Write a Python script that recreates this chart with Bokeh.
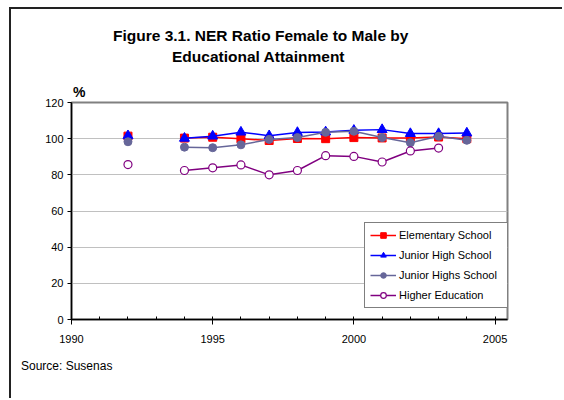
import numpy as np
from bokeh.plotting import figure
from bokeh.models import (ColumnDataSource, Range1d, SingleIntervalTicker, FixedTicker,
                          Legend, LegendItem, Title)
from bokeh.embed import file_html
from bokeh.resources import INLINE

nan = float("nan")
years = [1992, 1993, 1994, 1995, 1996, 1997, 1998, 1999, 2000, 2001, 2002, 2003, 2004]
elementary = [101.4, nan, 100.3, 100.8, 99.9, 99.0, 100.1, 100.0, 100.6, 100.4, 100.4, 100.9, 100.0]
junior_high = [101.6, nan, 100.2, 101.4, 103.6, 101.6, 103.4, 103.7, 104.6, 105.0, 102.8, 102.8, 103.1]
junior_highs = [98.3, nan, 95.3, 95.0, 96.6, 99.6, 100.6, 103.5, 104.1, 100.6, 97.8, 101.3, 99.1]
higher_edu = [85.7, nan, 82.4, 83.9, 85.5, 80.0, 82.4, 90.6, 90.2, 87.1, 93.2, 94.8, nan]

series_names = ["Elementary School", "Junior High School", "Junior Highs School", "Higher Education"]
y_ticks = [0, 20, 40, 60, 80, 100, 120]

src = ColumnDataSource(dict(year=years, el=elementary, jh=junior_high, jhs=junior_highs, he=higher_edu))

FONT = "Liberation Sans"

p = figure(width=553, height=391, output_backend="svg", toolbar_location=None,
           x_range=Range1d(1990, 2005.44), y_range=Range1d(0, 120),
           min_border_left=60, min_border_right=57, min_border_top=93, min_border_bottom=81)
p.styles = {"margin-left": "9px", "margin-top": "7px",
            "border-left": "2px solid #222222", "border-top": "2px solid #222222"}

p.background_fill_color = "white"
p.border_fill_color = "white"
p.outline_line_color = "#808080"
p.outline_line_width = 2

# axes
p.xaxis.ticker = SingleIntervalTicker(interval=5, num_minor_ticks=5)
p.xaxis.major_tick_out = 5
p.xaxis.major_tick_in = 0
p.xaxis.minor_tick_in = 3
p.xaxis.minor_tick_out = 0
p.xaxis.axis_line_color = "black"
p.xaxis.axis_line_width = 1.5
p.xaxis.major_tick_line_color = "black"
p.xaxis.minor_tick_line_color = "black"
p.xaxis.major_label_text_font = FONT
p.xaxis.major_label_text_font_size = "11px"
p.xaxis.major_label_text_color = "black"
p.xaxis.major_label_standoff = 10

p.yaxis.ticker = FixedTicker(ticks=y_ticks)
p.yaxis.major_tick_out = 4
p.yaxis.major_tick_in = 0
p.yaxis.minor_tick_line_color = None
p.yaxis.axis_line_color = "black"
p.yaxis.axis_line_width = 1.5
p.yaxis.major_tick_line_color = "black"
p.yaxis.major_label_text_font = FONT
p.yaxis.major_label_text_font_size = "11px"
p.yaxis.major_label_text_color = "black"
p.yaxis.major_label_standoff = 4

p.xgrid.grid_line_color = None
p.ygrid.ticker = FixedTicker(ticks=[20, 40, 60, 80, 100])
p.ygrid.grid_line_color = "#c0c0c0"
p.ygrid.grid_line_width = 1

# series
l1 = p.line("year", "el", source=src, line_color="#FF0000", line_width=1.5)
m1 = p.scatter("year", "el", source=src, marker="square", size=8, fill_color="#FF0000", line_color="#FF0000")
l2 = p.line("year", "jh", source=src, line_color="#0000FF", line_width=1.5)
m2 = p.scatter("year", "jh", source=src, marker="triangle", size=10, fill_color="#0000FF", line_color="#0000FF")
l3 = p.line("year", "jhs", source=src, line_color="#666699", line_width=1.5)
m3 = p.scatter("year", "jhs", source=src, marker="circle", size=8, fill_color="#666699", line_color="#666699")
l4 = p.line("year", "he", source=src, line_color="#800080", line_width=1.5)
m4 = p.scatter("year", "he", source=src, marker="circle", size=8, fill_color="white", line_color="#800080", line_width=1.2)

legend = Legend(items=[
    LegendItem(label=series_names[0], renderers=[l1, m1]),
    LegendItem(label=series_names[1], renderers=[l2, m2]),
    LegendItem(label=series_names[2], renderers=[l3, m3]),
    LegendItem(label=series_names[3], renderers=[l4, m4]),
], location=(293, 11))
legend.label_text_font = FONT
legend.label_text_font_size = "11px"
legend.label_text_color = "black"
legend.border_line_color = "#000000"
legend.border_line_width = 1
legend.background_fill_color = "white"
legend.background_fill_alpha = 1
legend.padding = 5
legend.spacing = 6
legend.margin = 0
legend.glyph_width = 26
legend.glyph_height = 14
legend.label_height = 14
legend.label_width = 104
legend.label_standoff = 3
p.add_layout(legend, "center")

# titles (first added = nearest to the frame)
def add_title(text, side, offset, size, bold, standoff):
    t = Title(text=text, align="left", offset=offset, text_font=FONT,
              text_font_size=size, text_font_style="bold" if bold else "normal",
              text_color="black", standoff=standoff)
    p.add_layout(t, side)

add_title("%", "above", 1.5, "14px", True, 6)
add_title("Educational Attainment", "above", 100.5, "15.5px", True, 28)
add_title("Figure 3.1. NER Ratio Female to Male by", "above", 41.5, "15.5px", True, -25)
add_title("Source: Susenas", "below", -50.5, "12px", False, 23)

open("out.html", "w").write(file_html(p, INLINE))
